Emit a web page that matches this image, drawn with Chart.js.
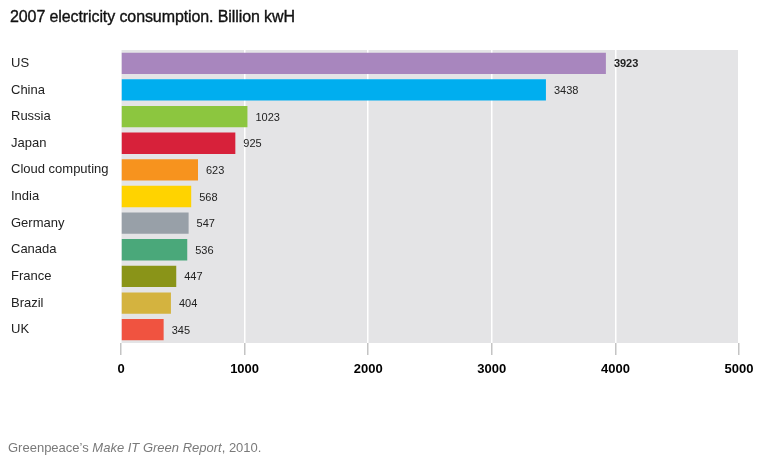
<!DOCTYPE html>
<html>
<head>
<meta charset="utf-8">
<script src="https://cdn.jsdelivr.net/npm/chart.js@4/dist/chart.umd.min.js"></script>
<style>
  html, body { margin: 0; padding: 0; background: #fff; }
  #wrap { position: relative; width: 768px; height: 460px; overflow: hidden; }
  #title { position: absolute; left: 10px; top: 8px; font: 16px "Liberation Sans", Arial, sans-serif; color: #111; -webkit-text-stroke: 0.35px #111; letter-spacing: -0.1px; }
  #source { position: absolute; left: 8px; top: 440px; font: 13px "Liberation Sans", Arial, sans-serif; color: #7a7a7a; }
  #c { position: absolute; left: 0; top: 0; }
</style>
</head>
<body>
<div id="wrap">
  <canvas id="c" width="768" height="460"></canvas>
  <div id="title">2007 electricity consumption. Billion kwH</div>
  <div id="source">Greenpeace’s <i>Make IT Green Report</i>, 2010.</div>
</div>
<script>
const categories = ["US", "China", "Russia", "Japan", "Cloud computing", "India", "Germany", "Canada", "France", "Brazil", "UK"];
const consumption = [3923, 3438, 1023, 925, 623, 568, 547, 536, 447, 404, 345];
const barColors = ["#a886be", "#00aeef", "#8cc63f", "#d7213a", "#f7931e", "#ffd300", "#98a0a8", "#4aa87a", "#8a9418", "#d4b33f", "#f05340"];
const xTicks = [0, 1000, 2000, 3000, 4000, 5000];

const bgPlugin = {
  id: 'plotBg',
  beforeDraw(chart) {
    const { ctx, chartArea: a } = chart;
    ctx.save();
    ctx.fillStyle = '#e4e4e6';
    ctx.fillRect(a.left, a.top, a.right - a.left, a.bottom - a.top);
    ctx.restore();
  }
};

const labelPlugin = {
  id: 'valueLabels',
  afterDatasetsDraw(chart) {
    const { ctx } = chart;
    const meta = chart.getDatasetMeta(0);
    ctx.save();
    ctx.textAlign = 'left';
    ctx.textBaseline = 'middle';
    ctx.fillStyle = '#222';
    meta.data.forEach((bar, i) => {
      ctx.font = (i === 0 ? 'bold ' : '') + '11px "Liberation Sans", Arial, sans-serif';
      ctx.fillText(String(consumption[i]), bar.x + 8, bar.y + 1);
    });
    ctx.restore();
  }
};

new Chart(document.getElementById('c'), {
  type: 'bar',
  data: {
    labels: categories,
    datasets: [{
      data: consumption,
      backgroundColor: barColors,
      borderWidth: 0,
      barPercentage: 0.8,
      categoryPercentage: 1.0
    }]
  },
  plugins: [bgPlugin, labelPlugin],
  options: {
    indexAxis: 'y',
    responsive: false,
    animation: false,
    events: [],
    layout: { padding: { left: 11, right: 29, top: 50, bottom: 77 } },
    plugins: { legend: { display: false }, tooltip: { enabled: false }, title: { display: false } },
    scales: {
      x: {
        type: 'linear',
        min: 0,
        max: 5000,
        afterBuildTicks(scale) { scale.ticks = xTicks.map(v => ({ value: v })); },
        afterFit(scale) { scale.height = 40; },
        border: { display: false },
        grid: { color: '#ffffff', lineWidth: 1.5, tickColor: '#c4c4c4', tickLength: 12, drawOnChartArea: true },
        ticks: {
          color: '#000',
          padding: 7,
          font: { family: '"Liberation Sans", Arial, sans-serif', size: 13, weight: 'bold' },
          callback: v => String(v)
        }
      },
      y: {
        type: 'category',
        afterFit(scale) { scale.width = 110; },
        border: { display: false },
        grid: { display: false },
        ticks: {
          crossAlign: 'far',
          color: '#222',
          font: { family: '"Liberation Sans", Arial, sans-serif', size: 13 }
        }
      }
    }
  }
});
</script>
</body>
</html>
